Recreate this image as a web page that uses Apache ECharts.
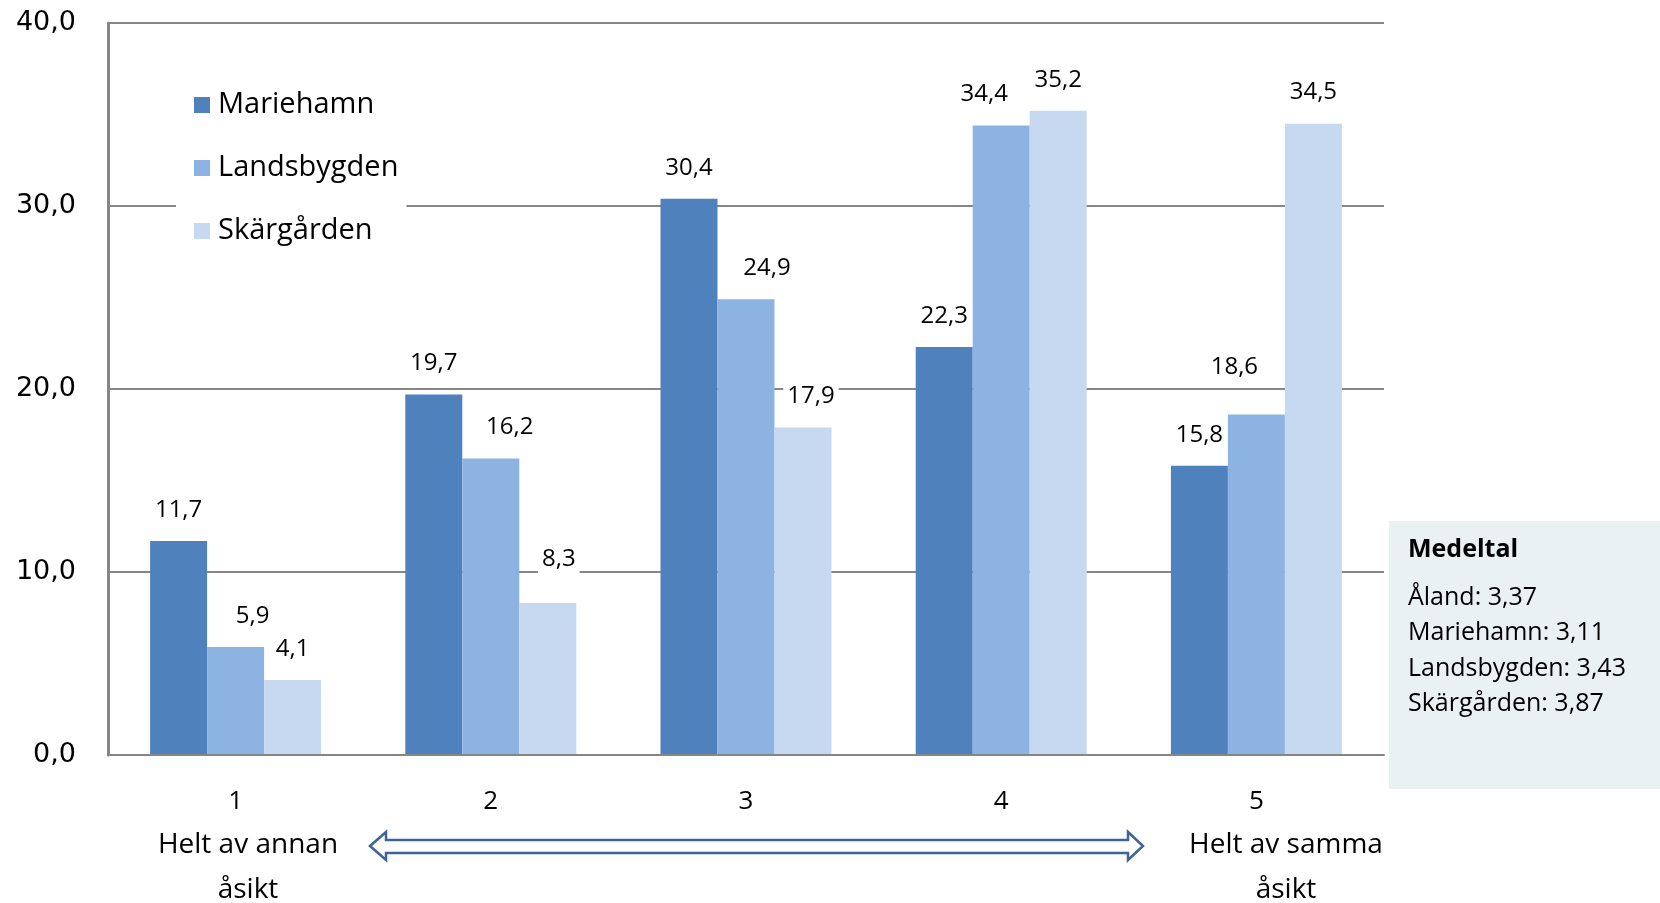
<!DOCTYPE html>
<html>
<head>
<meta charset="utf-8">
<script src="https://cdn.jsdelivr.net/npm/echarts@6/dist/echarts.min.js"></script>
<style>
html,body{margin:0;padding:0;background:#fff;}
#chart{width:1660px;height:903px;}
</style>
</head>
<body>
<div id="chart"></div>
<script>
// ---- data ----
const categories = ['1', '2', '3', '4', '5'];
const seriesNames = ['Mariehamn', 'Landsbygden', 'Skärgården'];
const mariehamn = [11.7, 19.7, 30.4, 22.3, 15.8];
const landsbygden = [5.9, 16.2, 24.9, 34.4, 18.6];
const skargarden = [4.1, 8.3, 17.9, 35.2, 34.5];
const yTicks = [0, 10, 20, 30, 40];
const leftEndText = ['Helt av annan', 'åsikt'];
const rightEndText = ['Helt av samma', 'åsikt'];
const boxTitle = 'Medeltal';
const boxLines = ['Åland: 3,37', 'Mariehamn: 3,11', 'Landsbygden: 3,43', 'Skärgården: 3,87'];

// ---- style ----
const colors = ['#4F81BD', '#8DB3E2', '#C6D9F1'];
// manual label nudges (dx, dy) as in the original
const labelShift = [
  [[0,0],[0,0],[0,0],[0,0],[0,0]],
  [[17,0],[19,0],[21,0],[-17,0],[-22,-16]],
  [[0,0],[11,-13],[8,0],[0,0],[0,0]]
];
const fmt = v => v.toFixed(1).replace('.', ',');
const F = '"Open Sans", Lato, sans-serif';

const chart = echarts.init(document.getElementById('chart'));
const allData = [mariehamn, landsbygden, skargarden];

const series = seriesNames.map((name, si) => ({
  name: name,
  type: 'bar',
  barGap: '0%',
  barCategoryGap: '33%',
  itemStyle: { color: colors[si] },
  data: allData[si].map((v, i) => ({
    value: v,
    label: { offset: labelShift[si][i] }
  })),
  label: {
    show: true,
    position: 'top',
    distance: 17,
    formatter: p => fmt(p.value),
    fontFamily: F,
    fontSize: 24,
    color: '#000',
    backgroundColor: '#fff',
    padding: [2, 4]
  },
  z: 3
}));

const graphics = [];
// double-headed arrow
graphics.push({
  type: 'polygon',
  shape: { points: [[370,846],[386,832],[386,840],[1128,840],[1128,832],[1143,846],[1128,860],[1128,853],[386,853],[386,860]] },
  style: { fill: '#fff', stroke: '#3E6396', lineWidth: 2.5 }
});
[[248, leftEndText], [1286, rightEndText]].forEach(([x, lines]) => {
  lines.forEach((t, k) => graphics.push({
    type: 'text', x: x, y: 845 + k * 45,
    style: { text: t, fontFamily: F, fontSize: 28, fill: '#000', align: 'center', verticalAlign: 'middle' }
  }));
});
// info box
graphics.push({ type: 'rect', shape: { x: 1389, y: 521, width: 271, height: 268 }, style: { fill: '#EAF1F3' } });
graphics.push({ type: 'text', x: 1408, y: 550, style: { text: boxTitle, fontFamily: F, fontWeight: 'bold', fontSize: 25, fill: '#000', verticalAlign: 'middle' } });
boxLines.forEach((t, k) => graphics.push({
  type: 'text', x: 1408, y: 598 + k * 35.3,
  style: { text: t, fontFamily: F, fontSize: 25, fill: '#000', verticalAlign: 'middle' }
}));

chart.setOption({
  animation: false,
  backgroundColor: '#fff',
  grid: { left: 108, right: 276, top: 23, bottom: 148 },
  legend: {
    orient: 'vertical',
    left: 176, top: 84,
    data: seriesNames,
    icon: 'rect',
    itemWidth: 16, itemHeight: 16,
    itemGap: 33,
    backgroundColor: '#fff',
    padding: [6, 8, 6, 18],
    textStyle: { fontFamily: F, fontSize: 29, color: '#000', lineHeight: 30, padding: [0, 0, 0, 3] },
    z: 10
  },
  xAxis: {
    type: 'category',
    data: categories,
    axisLine: { show: true, lineStyle: { color: '#868686', width: 2 } },
    axisTick: { show: false },
    axisLabel: { fontFamily: F, fontSize: 26, color: '#000', margin: 34 },
    z: 5
  },
  yAxis: {
    type: 'value',
    min: yTicks[0], max: yTicks[yTicks.length - 1], interval: yTicks[1] - yTicks[0],
    axisLine: { show: true, lineStyle: { color: '#868686', width: 3 } },
    axisTick: { show: false },
    splitLine: { lineStyle: { color: '#868686', width: 2 } },
    axisLabel: { formatter: v => fmt(v), fontFamily: '"DejaVu Sans", sans-serif', fontSize: 27, color: '#000', margin: 32 }
  },
  series: series,
  graphic: graphics
});
</script>
</body>
</html>
